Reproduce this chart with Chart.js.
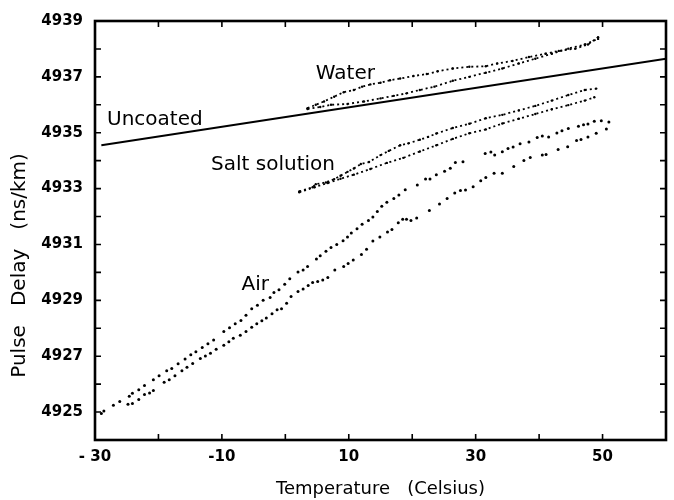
<!DOCTYPE html>
<html>
<head>
<meta charset="utf-8">
<script src="https://cdn.jsdelivr.net/npm/chart.js@4"></script>
<style>
  body { margin: 0; background: #fff; }
</style>
</head>
<body>
<canvas id="chart" width="674" height="500"></canvas>
<script>
// temperature (Celsius) and pulse delay (ns/km)
const uncoatedT = [-29, 60]
const uncoatedD = [4934.55, 4937.65]

const waterUpperT = [3.5, 4.8, 6.1, 7.7, 9.2, 10.8, 12.1, 13.4, 15.0, 16.5, 18.1, 20.2, 22.3, 24.0, 26.4, 29.0, 31.6, 33.4, 35.8, 38.4, 41.0, 43.1, 45.7, 47.7, 49.3]
const waterUpperD = [4935.88, 4936.0, 4936.12, 4936.29, 4936.45, 4936.53, 4936.65, 4936.73, 4936.79, 4936.88, 4936.94, 4937.03, 4937.1, 4937.2, 4937.3, 4937.36, 4937.38, 4937.48, 4937.57, 4937.71, 4937.83, 4937.93, 4938.01, 4938.16, 4938.42]
const waterLowerT = [3.5, 5.5, 7.2, 9.8, 12.4, 15.0, 17.1, 19.1, 21.2, 23.5, 26.4, 29.0, 31.6, 34.2, 36.8, 39.4, 42.0, 44.6, 47.2, 49.3]
const waterLowerD = [4935.85, 4935.92, 4936.0, 4936.03, 4936.12, 4936.23, 4936.32, 4936.41, 4936.53, 4936.65, 4936.86, 4937.0, 4937.15, 4937.3, 4937.48, 4937.65, 4937.83, 4938.01, 4938.16, 4938.36]

const saltUpperT = [2.2, 4.3, 4.8, 6.4, 7.7, 8.7, 9.8, 10.8, 11.9, 13.2, 15.0, 16.3, 18.1, 19.4, 21.2, 22.5, 23.8, 26.4, 29.0, 31.6, 34.2, 36.8, 39.4, 42.0, 44.6, 47.2, 49.0]
const saltUpperD = [4932.9, 4933.05, 4933.16, 4933.22, 4933.34, 4933.46, 4933.6, 4933.72, 4933.88, 4933.95, 4934.2, 4934.35, 4934.55, 4934.62, 4934.75, 4934.85, 4934.97, 4935.17, 4935.32, 4935.52, 4935.64, 4935.8, 4935.96, 4936.15, 4936.35, 4936.53, 4936.58]
const saltLowerT = [2.2, 4.6, 6.7, 8.7, 10.8, 13.4, 16.0, 18.6, 21.2, 23.8, 26.4, 29.0, 31.6, 34.2, 36.8, 39.4, 42.0, 44.6, 47.2, 48.7]
const saltLowerD = [4932.87, 4933.05, 4933.2, 4933.35, 4933.5, 4933.7, 4933.92, 4934.1, 4934.33, 4934.55, 4934.78, 4934.98, 4935.12, 4935.33, 4935.5, 4935.67, 4935.84, 4935.99, 4936.15, 4936.27]

const airUpperT = [-29.0, -28.6, -27.1, -26.1, -24.6, -24.1, -23.1, -22.2, -20.8, -19.9, -18.7, -17.9, -16.9, -15.8, -14.9, -14.1, -13.1, -12.2, -11.3, -9.7, -8.8, -7.9, -7.0, -6.2, -5.3, -4.4, -3.5, -2.4, -1.8, -1.0, -0.1, 0.7, 2.0, 2.8, 3.5, 4.9, 5.5, 6.4, 7.2, 8.1, 9.1, 9.8, 10.4, 11.3, 12.1, 13.1, 13.8, 14.5, 15.2, 16.0, 17.1, 17.9, 18.9, 20.8, 22.1, 22.8, 23.8, 25.1, 26.0, 26.8, 28.0, 31.5, 32.4, 33.0, 34.2, 35.1, 35.9, 37.0, 38.4, 39.7, 40.5, 41.5, 42.8, 43.6, 44.6, 46.2, 47.0, 47.7, 48.7, 49.8, 51.0]
const airUpperD = [4924.95, 4925.04, 4925.24, 4925.38, 4925.57, 4925.67, 4925.8, 4925.95, 4926.16, 4926.3, 4926.48, 4926.56, 4926.73, 4926.9, 4927.05, 4927.16, 4927.31, 4927.45, 4927.58, 4927.88, 4928.02, 4928.16, 4928.28, 4928.47, 4928.7, 4928.82, 4929.0, 4929.1, 4929.28, 4929.38, 4929.58, 4929.77, 4930.01, 4930.09, 4930.21, 4930.48, 4930.6, 4930.76, 4930.89, 4931.0, 4931.13, 4931.27, 4931.41, 4931.56, 4931.72, 4931.86, 4931.98, 4932.18, 4932.37, 4932.51, 4932.65, 4932.77, 4932.96, 4933.13, 4933.34, 4933.34, 4933.5, 4933.62, 4933.73, 4933.93, 4933.96, 4934.26, 4934.31, 4934.2, 4934.32, 4934.44, 4934.49, 4934.61, 4934.67, 4934.83, 4934.88, 4934.85, 4934.99, 4935.07, 4935.15, 4935.23, 4935.29, 4935.31, 4935.41, 4935.43, 4935.38]
const airLowerT = [-24.8, -24.1, -23.1, -22.2, -21.4, -20.8, -19.1, -18.3, -17.4, -16.3, -15.5, -14.6, -13.4, -12.6, -11.8, -10.9, -9.7, -8.9, -8.2, -7.1, -6.2, -5.3, -4.5, -3.7, -3.0, -2.1, -1.3, -0.6, 0.2, 0.9, 2.0, 2.8, 3.6, 4.3, 5.1, 5.9, 6.7, 7.8, 9.2, 9.9, 10.7, 12.0, 12.8, 13.8, 14.9, 16.1, 16.8, 17.8, 18.5, 19.1, 19.8, 20.7, 22.7, 24.3, 25.5, 26.7, 27.6, 28.4, 29.6, 30.8, 31.6, 32.9, 34.2, 36.0, 37.6, 38.6, 40.5, 41.1, 43.0, 44.5, 45.9, 46.6, 47.7, 49.0, 50.6]
const airLowerD = [4925.28, 4925.31, 4925.45, 4925.63, 4925.68, 4925.77, 4926.07, 4926.16, 4926.3, 4926.48, 4926.6, 4926.74, 4926.92, 4927.01, 4927.11, 4927.25, 4927.39, 4927.52, 4927.64, 4927.75, 4927.88, 4928.04, 4928.16, 4928.27, 4928.37, 4928.52, 4928.66, 4928.7, 4928.9, 4929.14, 4929.32, 4929.41, 4929.53, 4929.64, 4929.67, 4929.73, 4929.82, 4930.09, 4930.21, 4930.32, 4930.44, 4930.64, 4930.83, 4931.12, 4931.27, 4931.45, 4931.54, 4931.78, 4931.9, 4931.9, 4931.86, 4931.95, 4932.22, 4932.45, 4932.65, 4932.84, 4932.93, 4932.95, 4933.07, 4933.28, 4933.4, 4933.55, 4933.55, 4933.79, 4934.01, 4934.11, 4934.2, 4934.22, 4934.4, 4934.5, 4934.72, 4934.76, 4934.85, 4934.98, 4935.13]

// curve labels, anchored at [temperature, delay]
const curveLabels = [
  { text: 'Uncoated', at: [-28.1, 4935.48] },
  { text: 'Water', at: [4.8, 4937.1] },
  { text: 'Salt solution', at: [-11.7, 4933.86] },
  { text: 'Air', at: [-6.9, 4929.55] }
]

const xLabels = { '-30': '- 30', '-10': '-10', '10': '10', '30': '30', '50': '50' }

function toPoints(xs, ys) {
  return xs.map((x, i) => ({ x: x, y: ys[i] }))
}

function dotted(label, xs, ys) {
  return {
    label: label,
    data: toPoints(xs, ys),
    showLine: true,
    borderColor: '#000',
    backgroundColor: '#000',
    borderWidth: 1.8,
    borderDash: [2, 3],
    pointRadius: 1.2,
    pointBorderWidth: 0
  }
}

function dots(label, xs, ys) {
  return {
    label: label,
    data: toPoints(xs, ys),
    showLine: false,
    backgroundColor: '#000',
    borderColor: '#000',
    pointRadius: 1.5,
    pointBorderWidth: 0
  }
}

// box round the plot with inward tick marks on all four sides
const frameTicks = {
  id: 'frameTicks',
  afterDatasetsDraw(chart) {
    const { ctx, chartArea: a, scales: { x, y } } = chart
    ctx.save()
    ctx.strokeStyle = '#000'
    ctx.lineWidth = 1.6
    ctx.beginPath()
    x.ticks.forEach((t) => {
      const px = x.getPixelForValue(t.value)
      ctx.moveTo(px, a.bottom)
      ctx.lineTo(px, a.bottom - 6)
      ctx.moveTo(px, a.top)
      ctx.lineTo(px, a.top + 6)
    })
    y.ticks.forEach((t) => {
      const py = y.getPixelForValue(t.value)
      ctx.moveTo(a.left, py)
      ctx.lineTo(a.left + 6, py)
      ctx.moveTo(a.right, py)
      ctx.lineTo(a.right - 6, py)
    })
    ctx.stroke()
    ctx.lineWidth = 2.6
    ctx.strokeRect(a.left, a.top, a.right - a.left, a.bottom - a.top)

    ctx.fillStyle = '#000'
    ctx.font = '20px "DejaVu Sans"'
    ctx.textBaseline = 'middle'
    ctx.textAlign = 'left'
    curveLabels.forEach((l) => {
      ctx.fillText(l.text, x.getPixelForValue(l.at[0]), y.getPixelForValue(l.at[1]))
    })
    ctx.restore()
  }
}

new Chart(document.getElementById('chart').getContext('2d'), {
  type: 'scatter',
  data: {
    datasets: [
      {
        label: 'Uncoated',
        data: toPoints(uncoatedT, uncoatedD),
        showLine: true,
        borderColor: '#000',
        borderWidth: 2,
        pointRadius: 0
      },
      dotted('Water', waterUpperT, waterUpperD),
      dotted('Water', waterLowerT, waterLowerD),
      dotted('Salt solution', saltUpperT, saltUpperD),
      dotted('Salt solution', saltLowerT, saltLowerD),
      dots('Air', airUpperT, airUpperD),
      dots('Air', airLowerT, airLowerD)
    ]
  },
  options: {
    responsive: false,
    animation: false,
    devicePixelRatio: 1,
    layout: { padding: { top: 17, right: 2, left: 0, bottom: 0 } },
    plugins: {
      legend: { display: false },
      tooltip: { enabled: false }
    },
    scales: {
      x: {
        type: 'linear',
        min: -30,
        max: 60,
        grid: { display: false, drawTicks: false },
        border: { display: false },
        ticks: {
          stepSize: 10,
          color: '#000',
          padding: 8,
          maxRotation: 0,
          font: { family: 'DejaVu Sans', size: 15, weight: 'bold' },
          callback: (v) => xLabels[String(v)] || ''
        },
        title: {
          display: true,
          text: 'Temperature   (Celsius)',
          color: '#000',
          font: { family: 'DejaVu Sans', size: 18 },
          padding: { top: 0, bottom: 0 }
        },
        afterFit: (scale) => { scale.height = 60 }
      },
      y: {
        type: 'linear',
        min: 4924,
        max: 4939,
        grid: { display: false, drawTicks: false },
        border: { display: false },
        ticks: {
          stepSize: 1,
          color: '#000',
          padding: 12,
          font: { family: 'DejaVu Sans', size: 15, weight: 'bold' },
          callback: (v) => (Math.abs(v % 2) === 1 ? String(v) : '')
        },
        title: {
          display: true,
          // trailing spaces push the rotated text down towards the axis foot
          text: 'Pulse   Delay   (ns/km)           ',
          color: '#000',
          font: { family: 'DejaVu Sans', size: 20 },
          padding: { top: 8, bottom: 0 }
        },
        afterFit: (scale) => { scale.width = 95 }
      }
    }
  },
  plugins: [frameTicks]
})
</script>
</body>
</html>
